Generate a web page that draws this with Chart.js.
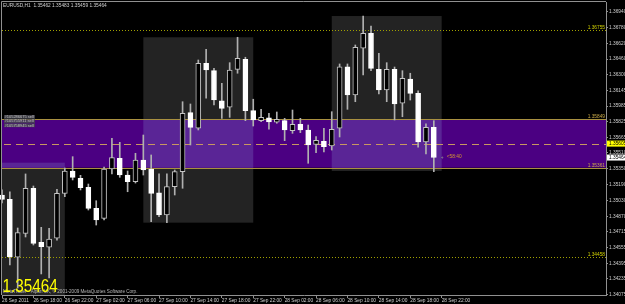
<!DOCTYPE html>
<html>
<head>
<meta charset="utf-8">
<title>EURUSD,H1</title>
<script src="https://cdn.jsdelivr.net/npm/chart.js@4.4.0/dist/chart.umd.min.js"></script>
<style>
html, body { margin:0; padding:0; background:#000; }
#wrap { width:625px; height:304px; position:relative; }
</style>
</head>
<body>
<div id="wrap"><canvas id="mt4" width="625" height="304"></canvas></div>
<script>
// EURUSD H1 bars, left to right
var opens  = [1.35085,1.35042,1.34455,1.34697,1.35153,1.34606,1.34556,1.34647,1.35102,1.35328,
              1.35254,1.35163,1.34950,1.34849,1.35348,1.35456,1.35287,1.35220,1.35439,1.35345,
              1.35108,1.34883,1.35169,1.35321,1.35918,1.35760,1.36418,1.36343,1.36039,1.35973,
              1.36357,1.36458,1.35938,1.35837,1.35867,1.35821,1.35837,1.35736,1.35800,1.35743,
              1.35598,1.35628,1.35581,1.35760,1.36383,1.36097,1.36570,1.36721,1.36357,1.36148,
              1.36357,1.36013,1.36259,1.36114,1.35621,1.35770];
var highs  = [1.35136,1.35118,1.34751,1.35298,1.35176,1.34758,1.34748,1.35143,1.35358,1.35473,
              1.35284,1.35196,1.35027,1.35368,1.35659,1.35618,1.35328,1.35507,1.35692,1.35490,
              1.35298,1.35298,1.35338,1.36029,1.36006,1.36451,1.36560,1.36367,1.36215,1.36424,
              1.36681,1.36479,1.36054,1.35952,1.35912,1.35925,1.35861,1.35945,1.35861,1.35793,
              1.35675,1.35760,1.35928,1.36411,1.36411,1.36603,1.36896,1.36795,1.36519,1.36424,
              1.36380,1.36343,1.36317,1.36138,1.35804,1.35837];
var lows   = [1.35004,1.34377,1.34144,1.34660,1.34579,1.34286,1.34245,1.34629,1.35068,1.35237,
              1.35136,1.34933,1.34781,1.34832,1.35298,1.35264,1.35118,1.35206,1.35287,1.34815,
              1.34865,1.34805,1.35085,1.35153,1.35591,1.35743,1.36064,1.35996,1.35861,1.35871,
              1.36317,1.35837,1.35783,1.35827,1.35750,1.35811,1.35635,1.35709,1.35716,1.35406,
              1.35513,1.35520,1.35540,1.35672,1.35952,1.36029,1.36299,1.36343,1.36107,1.36029,
              1.35844,1.35877,1.36046,1.35568,1.35500,1.35321];
var closes = [1.35040,1.34461,1.34704,1.35153,1.34596,1.34562,1.34640,1.35102,1.35328,1.35264,
              1.35159,1.34950,1.34832,1.35348,1.35463,1.35287,1.35220,1.35439,1.35338,1.35102,
              1.34883,1.35169,1.35321,1.35912,1.35770,1.36418,1.36350,1.36046,1.35962,1.36350,
              1.36468,1.35938,1.35844,1.35871,1.35824,1.35851,1.35743,1.35800,1.35743,1.35591,
              1.35639,1.35574,1.35750,1.36383,1.36097,1.36580,1.36721,1.36367,1.36148,1.36357,
              1.36006,1.36266,1.36114,1.35621,1.35770,1.35464];

var timeTicks  = [0,4,8,12,16,20,24,28,32,36,40,44,48,52,56];
var timeLabels = ['26 Sep 2011','26 Sep 18:00','26 Sep 22:00','27 Sep 02:00','27 Sep 06:00',
                  '27 Sep 10:00','27 Sep 14:00','27 Sep 18:00','27 Sep 22:00','28 Sep 02:00',
                  '28 Sep 06:00','28 Sep 10:00','28 Sep 14:00','28 Sep 18:00','28 Sep 22:00'];
var priceTicks = [1.36940,1.36780,1.36620,1.36460,1.36300,1.36145,1.35985,1.35825,1.35665,1.35510,
                  1.35350,1.35190,1.35030,1.34870,1.34715,1.34555,1.34395,1.34235,1.34075];

// chart objects
var boxFrom = [-5, 18, 42];
var boxTo   = [8, 32, 56];
var boxHigh = [1.35412, 1.36681, 1.36896];
var boxLow  = [1.33900, 1.34805, 1.35328];
var bandHigh = 1.35849, bandLow = 1.35361, bandMid = 1.35605;
var dotLevels = [1.36755, 1.34458];
var bidPrice = 1.35464;
var title = 'EURUSD,H1  1.35462 1.35483 1.35459 1.35464';
var tradeNotes = ['#105286675 sell', '#105755911 sell', '#105758945 sell'];
var barTimer = '<58:40';

var FONT = '"Liberation Sans", Arial, sans-serif';

var bodies = opens.map(function(o, i){ return {x: i, y: [o, closes[i]]}; });
var wicks  = lows.map(function(l, i){ return {x: i, y: [l, highs[i]]}; });
var bodyFill = opens.map(function(o, i){ return closes[i] > o ? '#000000' : '#ffffff'; });
var bodyEdge = opens.map(function(o, i){ return closes[i] > o ? '#c4c4c4' : '#ffffff'; });

function fmt(p){ return p.toFixed(5); }

var mtObjects = {
  id: 'mtObjects',
  beforeDatasetsDraw: function(chart){
    var ctx = chart.ctx, a = chart.chartArea, xs = chart.scales.x, ys = chart.scales.y;
    var w = a.right - a.left;
    ctx.save();
    ctx.beginPath(); ctx.rect(a.left, a.top, w, a.bottom - a.top); ctx.clip();

    // grey rectangles
    var bt = ys.getPixelForValue(bandHigh), bb = ys.getPixelForValue(bandLow);
    for (var i = 0; i < boxFrom.length; i++) {
      var x1 = xs.getPixelForValue(boxFrom[i]), x2 = xs.getPixelForValue(boxTo[i]);
      var y1 = ys.getPixelForValue(boxHigh[i]), y2 = ys.getPixelForValue(boxLow[i]);
      ctx.fillStyle = '#232323';
      ctx.fillRect(x1, y1, x2 - x1, y2 - y1);
    }
    // purple band
    ctx.fillStyle = '#4b0082';
    ctx.fillRect(a.left, bt, w, bb - bt);
    // band where it crosses a rectangle
    for (i = 0; i < boxFrom.length; i++) {
      x1 = xs.getPixelForValue(boxFrom[i]); x2 = xs.getPixelForValue(boxTo[i]);
      y1 = Math.max(ys.getPixelForValue(boxHigh[i]), bt);
      y2 = Math.min(ys.getPixelForValue(boxLow[i]), bb);
      if (y2 > y1) {
        ctx.fillStyle = '#5a2596';
        ctx.fillRect(x1, y1, x2 - x1, y2 - y1);
      }
    }

    // band edges
    ctx.strokeStyle = '#a89040'; ctx.lineWidth = 1;
    [bandHigh, bandLow].forEach(function(p){
      var y = Math.round(ys.getPixelForValue(p)) + 0.5;
      ctx.beginPath(); ctx.moveTo(a.left, y); ctx.lineTo(a.right, y); ctx.stroke();
    });
    // middle dashed
    ctx.strokeStyle = '#c89860'; ctx.setLineDash([7, 5]);
    var ym = Math.round(ys.getPixelForValue(bandMid)) + 0.5;
    ctx.beginPath(); ctx.moveTo(a.left + 2, ym); ctx.lineTo(a.right, ym); ctx.stroke();
    // dotted levels
    ctx.strokeStyle = '#a0a000'; ctx.setLineDash([1, 2]);
    dotLevels.forEach(function(p){
      var y = Math.round(ys.getPixelForValue(p)) + 0.5;
      ctx.beginPath(); ctx.moveTo(a.left, y); ctx.lineTo(a.right, y); ctx.stroke();
    });
    ctx.setLineDash([]);
    ctx.restore();
  },
  afterDraw: function(chart){
    var ctx = chart.ctx, a = chart.chartArea, ys = chart.scales.y, xs = chart.scales.x;
    ctx.save();
    // frame top/left
    ctx.strokeStyle = '#909090'; ctx.lineWidth = 1;
    ctx.beginPath();
    ctx.moveTo(a.left - 0.5, a.bottom); ctx.lineTo(a.left - 0.5, a.top - 0.5); ctx.lineTo(a.right, a.top - 0.5);
    ctx.stroke();

    ctx.font = '4.8px ' + FONT;
    ctx.textBaseline = 'top';
    ctx.textAlign = 'left';
    ctx.fillStyle = '#d0d0d0';
    ctx.fillText(title, 3, 3);

    // trade notes
    ctx.font = '4px ' + FONT;
    tradeNotes.forEach(function(t, i){
      var y = 115 + i * 4.2;
      ctx.fillStyle = 'rgba(70,70,80,0.85)';
      ctx.fillRect(4, y, 31, 3.8);
      ctx.fillStyle = '#c0c0c0';
      ctx.fillText(t, 4.5, y);
    });

    // level labels at right edge
    ctx.font = '4.8px ' + FONT;
    ctx.textAlign = 'right';
    ctx.textBaseline = 'bottom';
    dotLevels.forEach(function(p){
      ctx.fillStyle = '#d0d000';
      ctx.fillText(fmt(p), a.right - 1, ys.getPixelForValue(p));
    });
    [bandHigh, bandLow].forEach(function(p){
      ctx.fillStyle = '#c8a848';
      ctx.fillText(fmt(p), a.right - 1, ys.getPixelForValue(p));
    });

    // axis price boxes
    ctx.textAlign = 'left'; ctx.textBaseline = 'middle';
    var ym = ys.getPixelForValue(bandMid);
    ctx.fillStyle = '#ffff00'; ctx.fillRect(a.right + 1, ym - 3, 19, 6);
    ctx.fillStyle = '#000'; ctx.fillText(fmt(bandMid), a.right + 3, ym);
    var yb = ys.getPixelForValue(bidPrice);
    ctx.fillStyle = '#ffffff'; ctx.fillRect(a.right + 1, yb - 3, 19, 6);
    ctx.fillStyle = '#000'; ctx.fillText(fmt(bidPrice), a.right + 3, yb);

    // bar timer
    var xl = xs.getPixelForValue(opens.length - 1);
    ctx.fillStyle = '#909090';
    ctx.fillText('+', xl + 7, yb);
    ctx.fillStyle = '#d89a30';
    ctx.fillText(barTimer, xl + 13, yb - 1);

    // copyright + big bid
    ctx.textBaseline = 'alphabetic';
    ctx.font = '4.6px ' + FONT;
    ctx.fillStyle = '#b8b8b8';
    ctx.fillText('MetaTrader - Alpari UK, \u00a9 2001-2009 MetaQuotes Software Corp.', 3, 292.5);
    ctx.translate(2.5, 292);
    ctx.scale(0.85, 1);
    ctx.font = '18px ' + FONT;
    ctx.fillStyle = '#ffff00';
    ctx.fillText(fmt(bidPrice), 0, 0);
    ctx.restore();
  }
};

var chart = new Chart(document.getElementById('mt4'), {
  type: 'bar',
  data: {
    datasets: [{
      label: 'body',
      data: bodies,
      backgroundColor: bodyFill,
      borderColor: bodyEdge,
      borderWidth: 1,
      borderSkipped: false,
      barThickness: 5,
      minBarLength: 1,
      grouped: false,
      clip: false
    }, {
      label: 'wick',
      data: wicks,
      backgroundColor: '#b0b0b0',
      borderWidth: 0,
      barThickness: 1,
      grouped: false,
      clip: false
    }]
  },
  options: {
    responsive: false,
    animation: false,
    events: [],
    layout: { padding: { top: 2, left: 2, right: 0, bottom: 0 } },
    plugins: { legend: { display: false }, tooltip: { enabled: false } },
    scales: {
      x: {
        type: 'linear',
        min: 0,
        max: 76.93,
        offset: false,
        bounds: 'data',
        afterBuildTicks: function(scale){
          scale.ticks = timeTicks.map(function(v){ return {value: v}; });
        },
        afterFit: function(scale){
          scale.height = 9;
          scale.paddingLeft = 0; scale.paddingRight = 0;
        },
        grid: { drawOnChartArea: false, drawTicks: true, tickLength: 3, color: '#909090', offset: false },
        border: { display: true, color: '#909090' },
        ticks: {
          autoSkip: false, maxRotation: 0, minRotation: 0, align: 'start', padding: 0,
          color: '#d0d0d0', font: { family: FONT, size: 4.8 },
          callback: function(v, i){ return timeLabels[i]; }
        }
      },
      y: {
        type: 'linear',
        position: 'right',
        min: 1.34073,
        max: 1.37038,
        bounds: 'data',
        afterBuildTicks: function(scale){
          scale.ticks = priceTicks.map(function(v){ return {value: v}; });
        },
        afterFit: function(scale){
          scale.width = 19;
          scale.paddingTop = 0; scale.paddingBottom = 0;
        },
        grid: { drawOnChartArea: false, drawTicks: true, tickLength: 2, color: '#909090' },
        border: { display: true, color: '#909090' },
        ticks: {
          padding: 1,
          color: '#d0d0d0', font: { family: FONT, size: 4.8 },
          callback: function(v){ return fmt(v); }
        }
      }
    }
  },
  plugins: [mtObjects]
});
</script>
</body>
</html>
